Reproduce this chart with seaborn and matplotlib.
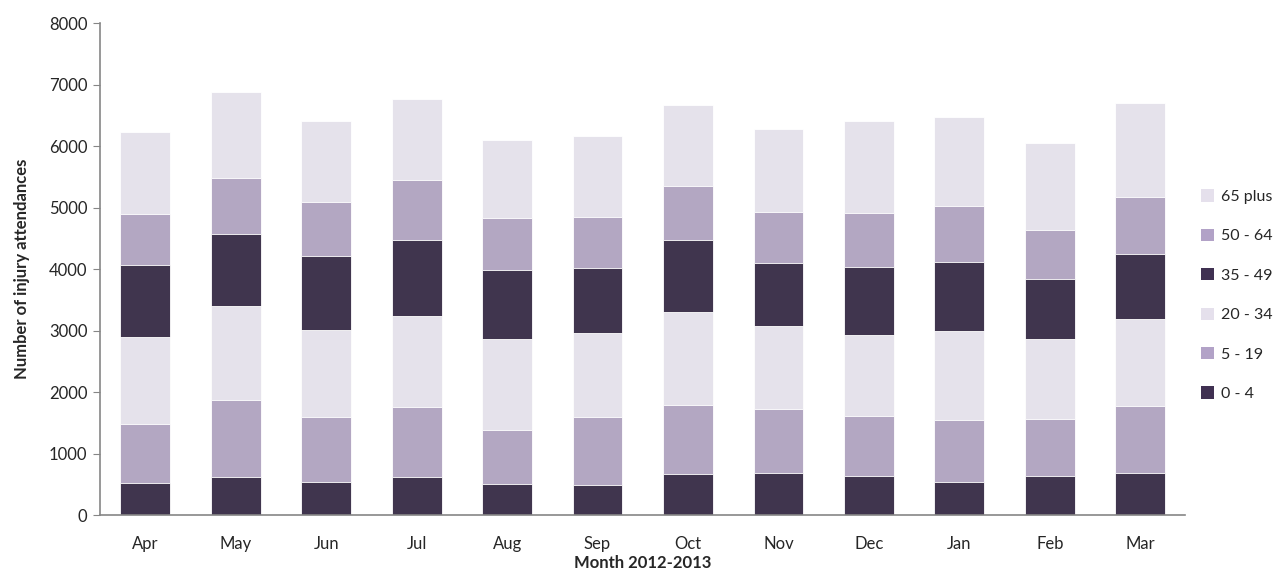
import numpy as np
import pandas as pd
import seaborn as sns
import matplotlib.pyplot as plt
from matplotlib.patches import Patch

sns.set_style("white")
plt.rcParams['font.family'] = ['Lato', 'DejaVu Sans']

# injury attendances by month and age group
months = ['Apr', 'May', 'Jun', 'Jul', 'Aug', 'Sep', 'Oct', 'Nov', 'Dec', 'Jan', 'Feb', 'Mar']
age_0_4 = [526, 618, 547, 623, 509, 493, 672, 678, 634, 537, 634, 688]
age_5_19 = [954, 1252, 1046, 1133, 868, 1095, 1122, 1056, 976, 1013, 927, 1084]
age_20_34 = [1414, 1523, 1421, 1485, 1479, 1377, 1512, 1345, 1317, 1436, 1295, 1415]
age_35_49 = [1166, 1182, 1192, 1231, 1128, 1051, 1160, 1019, 1106, 1128, 981, 1057]
age_50_64 = [829, 910, 883, 970, 845, 835, 889, 834, 878, 910, 792, 927]
age_65_plus = [1339, 1388, 1318, 1322, 1263, 1306, 1317, 1344, 1496, 1448, 1414, 1528]

groups = ['0 - 4', '5 - 19', '20 - 34', '35 - 49', '50 - 64', '65 plus']
dark, mid, light = '#403152', '#B2A2C7', '#E5E0EC'
colors = [dark, mid, light, dark, mid, light]

df = pd.DataFrame({'Month': months, '0 - 4': age_0_4, '5 - 19': age_5_19,
                   '20 - 34': age_20_34, '35 - 49': age_35_49,
                   '50 - 64': age_50_64, '65 plus': age_65_plus})
cum = df[groups].cumsum(axis=1)
cum['Month'] = df['Month']

fig = plt.figure(figsize=(12.83, 5.75), dpi=100)
ax = fig.add_axes([0.078, 0.104, 0.846, 0.856])

# stacked look: draw cumulative totals from the top down
for g, c in zip(groups[::-1], colors[::-1]):
    sns.barplot(x='Month', y=g, data=cum, color=c, width=0.55,
                edgecolor='white', linewidth=0.6, ax=ax)

ax.set_ylim(0, 8000)
ax.set_xlim(-0.5, 11.5)
ax.set_yticks(range(0, 8001, 1000))
ax.tick_params(axis='y', length=5, color='#868686', direction='out', left=True, labelsize=12, pad=4)
ax.tick_params(axis='x', length=0, labelsize=12, pad=15)
for s in ['top', 'right']:
    ax.spines[s].set_visible(False)
for s in ['left', 'bottom']:
    ax.spines[s].set_color('#868686')
    ax.spines[s].set_linewidth(1.2)

ax.set_xlabel('Month 2012-2013', fontsize=12, fontweight='bold', labelpad=2)
ax.set_ylabel('Number of injury attendances', fontsize=12, fontweight='bold', labelpad=14)

handles = [Patch(facecolor=c, edgecolor='none', label=g) for g, c in zip(groups[::-1], colors[::-1])]
ax.legend(handles=handles, loc='center left', bbox_to_anchor=(1.0, 0.447),
          frameon=False, fontsize=11.5, handlelength=0.8, handleheight=0.8,
          handletextpad=0.4, labelspacing=1.55, borderaxespad=0.6)

fig.savefig('out.png', dpi=100)
